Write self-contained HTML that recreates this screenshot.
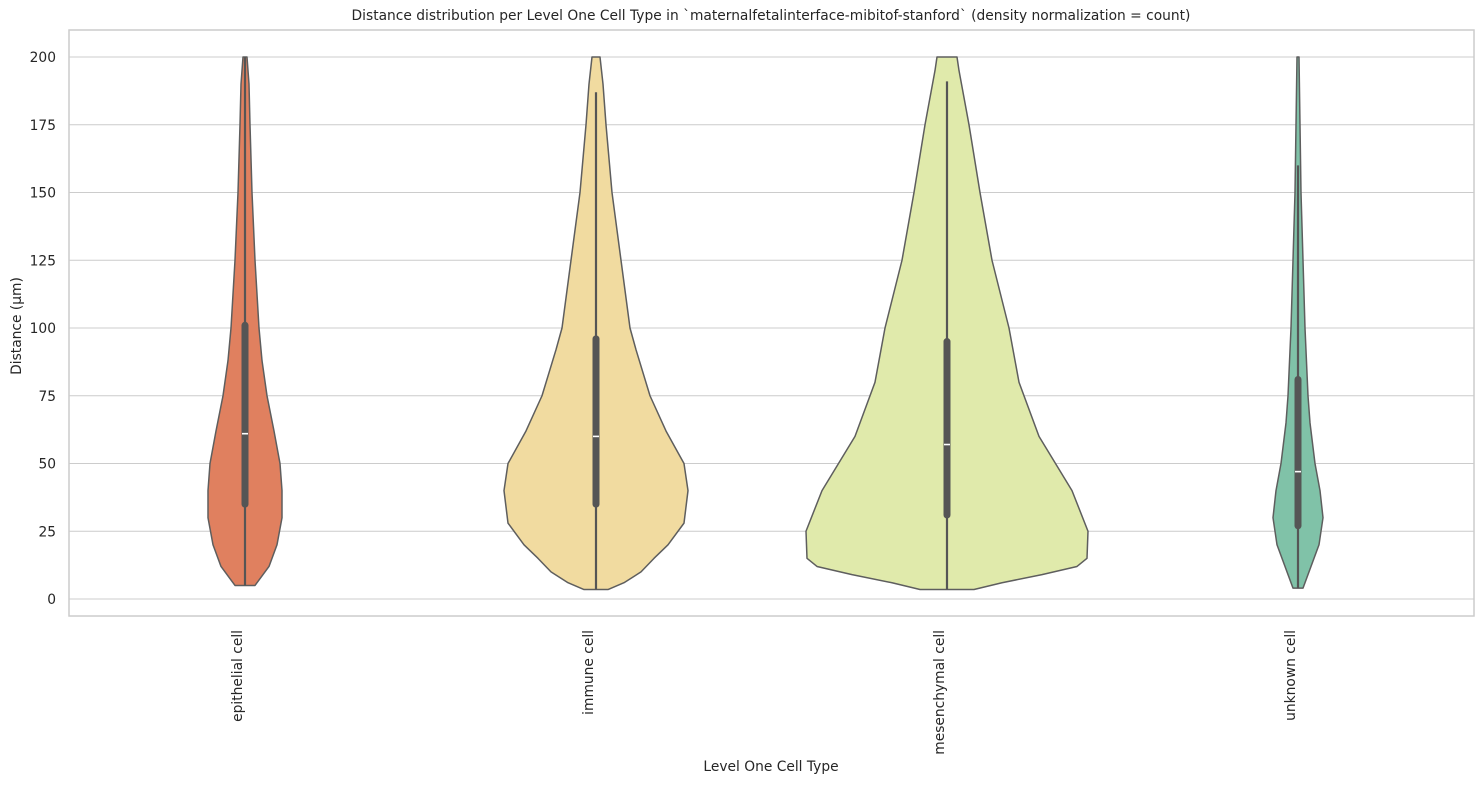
<!DOCTYPE html>
<html><head><meta charset="utf-8"><style>
body{margin:0;background:#fff;overflow:hidden;}
svg text{font-family:"DejaVu Sans","Liberation Sans",sans-serif;fill:#262626;}
</style></head><body>
<svg id="s" width="1484" height="784" xmlns="http://www.w3.org/2000/svg">
<rect x="69" y="30" width="1405" height="586" fill="#fff" stroke="#cccccc" stroke-width="1.5"/>
<g id="grid"></g>
<g id="v"></g>
<text x="771" y="20" font-size="13.8" text-anchor="middle">Distance distribution per Level One Cell Type in `maternalfetalinterface-mibitof-stanford` (density normalization = count)</text>
<text x="771" y="771" font-size="13.8" text-anchor="middle">Level One Cell Type</text>
<text transform="translate(21,326) rotate(-90)" font-size="13.8" text-anchor="middle">Distance (µm)</text>
<g font-size="13.8" text-anchor="end">
<text transform="translate(242,630) rotate(-90)">epithelial cell</text>
<text transform="translate(593,630) rotate(-90)">immune cell</text>
<text transform="translate(944,630) rotate(-90)">mesenchymal cell</text>
<text transform="translate(1295,630) rotate(-90)">unknown cell</text>
</g>
</svg>
<script>
const Y=v=>599-2.71*v;
let g='';
for(let v=0;v<=200;v+=25){const y=Y(v);g+=`<line x1="69" x2="1474" y1="${y}" y2="${y}" stroke="#cccccc" stroke-width="1"/><text x="56" y="${y+5}" font-size="13.8" text-anchor="end">${v}</text>`;}
document.getElementById('grid').innerHTML=g;
const V=[
{c:245,col:'#e0805f',p:[[5,10],[8,16],[12,24],[20,32],[30,37],[40,37],[50,35],[62,29],[75,22],[88,17],[100,14],[125,10],[150,7],[175,5],[190,4],[200,2]],b:[35,101,61,5,200]},
{c:596,col:'#f1dba0',p:[[3.5,12],[6,28],[10,45],[15,58],[20,72],[28,88],[40,92],[50,88],[62,70],[75,54],[92,40],[100,34],[125,25],[150,16],[175,10],[190,7],[200,4]],b:[35,96,60,3.5,187]},
{c:947,col:'#e0eaab',p:[[3.5,27],[6,55],[9,95],[12,130],[15,140],[25,141],[40,125],[60,92],[80,72],[100,62],[125,45],[150,33],[175,22],[195,12],[200,10]],b:[31,95,57,3.5,191]},
{c:1298,col:'#80c2a8',p:[[4,5],[10,11],[20,21],[30,25],[40,22],[50,17],[65,12],[75,10],[100,7],[125,5],[150,3],[175,2],[200,1]],b:[27,81,47,4,160]}];
let s='';
for(const o of V){
 let pts=o.p.map(([v,w])=>[o.c+w,Y(v)]);
 let left=o.p.slice().reverse().map(([v,w])=>[o.c-w,Y(v)]);
 const all=pts.concat(left);
 s+=`<polygon points="${all.map(p=>p.join(',')).join(' ')}" fill="${o.col}" stroke="#5e5e5e" stroke-width="1.5" stroke-linejoin="round"/>`;
 const [q1,q3,m,lo,hi]=o.b;
 s+=`<line x1="${o.c}" x2="${o.c}" y1="${Y(lo)}" y2="${Y(hi)}" stroke="#555" stroke-width="2.2"/>`;
 s+=`<line x1="${o.c}" x2="${o.c}" y1="${Y(q1)}" y2="${Y(q3)}" stroke="#555" stroke-width="7" stroke-linecap="round"/>`;
 s+=`<line x1="${o.c-3}" x2="${o.c+3}" y1="${Y(m)}" y2="${Y(m)}" stroke="#fff" stroke-width="1.6"/>`;
}
document.getElementById('v').innerHTML=s;
</script>
</body></html>
